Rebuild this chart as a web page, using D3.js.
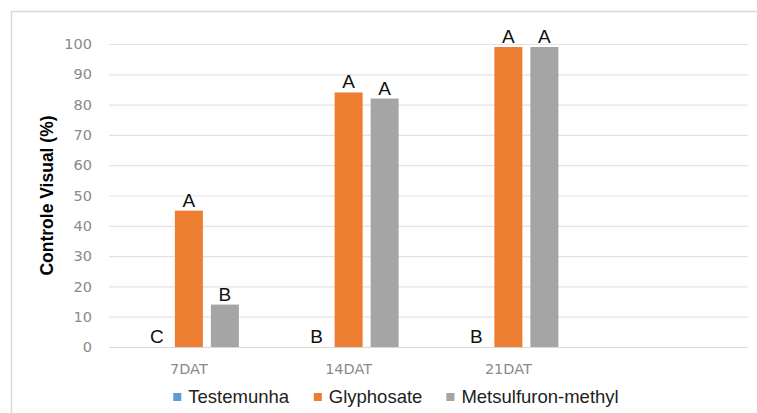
<!DOCTYPE html>
<html>
<head>
<meta charset="utf-8">
<script src="https://cdn.jsdelivr.net/npm/d3@7"></script>
<style>
  html, body { margin: 0; padding: 0; background: #fff; }
  svg { display: block; }
</style>
</head>
<body>
<svg id="chart" width="757" height="413"></svg>
<script>
// data
const categories = ["7DAT", "14DAT", "21DAT"];
const seriesNames = ["Testemunha", "Glyphosate", "Metsulfuron-methyl"];
const testemunha = [0, 0, 0];
const glyphosate = [45, 84, 99];
const metsulfuron = [14, 82, 99];
const lettersTestemunha = ["C", "B", "B"];
const lettersGlyphosate = ["A", "A", "A"];
const lettersMetsulfuron = ["B", "A", "A"];
const yTicks = [0, 10, 20, 30, 40, 50, 60, 70, 80, 90, 100];

const colors = ["#5B9BD5", "#ED7D31", "#A5A5A5"];

const series = [
  { name: seriesNames[0], values: testemunha, letters: lettersTestemunha },
  { name: seriesNames[1], values: glyphosate, letters: lettersGlyphosate },
  { name: seriesNames[2], values: metsulfuron, letters: lettersMetsulfuron },
];

const svg = d3.select("#chart");
const margin = { top: 44, left: 109, right: 9, bottom: 66 };
const W = 757, H = 413;

// chart frame (runs off the right/bottom edge like the original)
svg.append("rect")
  .attr("x", 11.5).attr("y", 11.5)
  .attr("width", 800).attr("height", 450)
  .attr("fill", "none")
  .attr("stroke", "#d9d9d9")
  .attr("stroke-width", 1.5);

// the original has an empty 4th category slot
const x = d3.scaleBand()
  .domain([...categories, ""])
  .range([margin.left, W - margin.right]);

const xSub = d3.scaleBand()
  .domain(seriesNames)
  .range([0, x.bandwidth()])
  .paddingInner(0.222)
  .paddingOuter(0.83);

const y = d3.scaleLinear()
  .domain([0, 100])
  .range([H - margin.bottom, margin.top]);

// gridlines + y labels
const yAxis = svg.append("g")
  .attr("transform", `translate(${margin.left},0)`)
  .call(d3.axisLeft(y).tickValues(yTicks).tickSize(-(W - margin.right - margin.left)).tickPadding(17));
yAxis.select(".domain").remove();
yAxis.selectAll(".tick line").attr("stroke", "#e3e3e3").attr("stroke-width", 1.2);
yAxis.selectAll(".tick text")
  .attr("fill", "#8a8a8a")
  .style("font-family", "'DejaVu Sans', sans-serif")
  .style("font-size", "14.5px");

// x labels
const xAxis = svg.append("g")
  .attr("transform", `translate(0,${y(0)})`)
  .call(d3.axisBottom(x).tickSize(0).tickPadding(17));
xAxis.select(".domain").attr("stroke", "#d9d9d9").attr("stroke-width", 1.2);
xAxis.selectAll(".tick text")
  .attr("fill", "#8a8a8a")
  .style("font-family", "'DejaVu Sans', sans-serif")
  .style("font-size", "14.5px");

// bars
const groups = svg.append("g").selectAll("g")
  .data(series)
  .join("g")
  .attr("fill", (d, i) => colors[i]);

groups.selectAll("rect")
  .data(s => s.values.map((v, i) => ({ cat: categories[i], name: s.name, v })))
  .join("rect")
  .attr("x", d => x(d.cat) + xSub(d.name))
  .attr("width", xSub.bandwidth())
  .attr("y", d => y(d.v))
  .attr("height", d => y(0) - y(d.v));

// significance letters
svg.append("g").selectAll("g")
  .data(series)
  .join("g")
  .selectAll("text")
  .data(s => s.values.map((v, i) => ({ cat: categories[i], name: s.name, v, t: s.letters[i] })))
  .join("text")
  .attr("x", d => x(d.cat) + xSub(d.name) + xSub.bandwidth() / 2 + (d.v === 0 ? 4 : 0))
  .attr("y", d => y(d.v) - 4)
  .attr("text-anchor", "middle")
  .attr("fill", "#111")
  .style("font-family", "'Liberation Sans', Arial, sans-serif")
  .style("font-size", "19px")
  .text(d => d.t);

// y title
svg.append("text")
  .attr("transform", `translate(53,${(y(0) + y(100)) / 2}) rotate(-90)`)
  .attr("text-anchor", "middle")
  .attr("fill", "#000")
  .style("font-family", "'Liberation Sans', Arial, sans-serif")
  .style("font-weight", "bold")
  .style("font-size", "17.5px")
  .text("Controle Visual (%)");

// legend
const legend = svg.append("g").attr("transform", `translate(0,${H - 16})`);
const items = legend.selectAll("g").data(series).join("g");
items.append("rect")
  .attr("width", 8).attr("height", 8)
  .attr("y", -4)
  .attr("fill", (d, i) => colors[i]);
items.append("text")
  .attr("x", 15)
  .attr("dy", "0.35em")
  .attr("fill", "#222")
  .style("font-family", "'Liberation Sans', Arial, sans-serif")
  .style("font-size", "18.5px")
  .text(d => d.name);

let widths = [];
items.each(function () { widths.push(this.getBBox().width); });
const gap = 24;
const total = d3.sum(widths) + gap * (widths.length - 1);
let cx = 396 - total / 2;
items.attr("transform", (d, i) => {
  const t = `translate(${cx},0)`;
  cx += widths[i] + gap;
  return t;
});
</script>
</body>
</html>
